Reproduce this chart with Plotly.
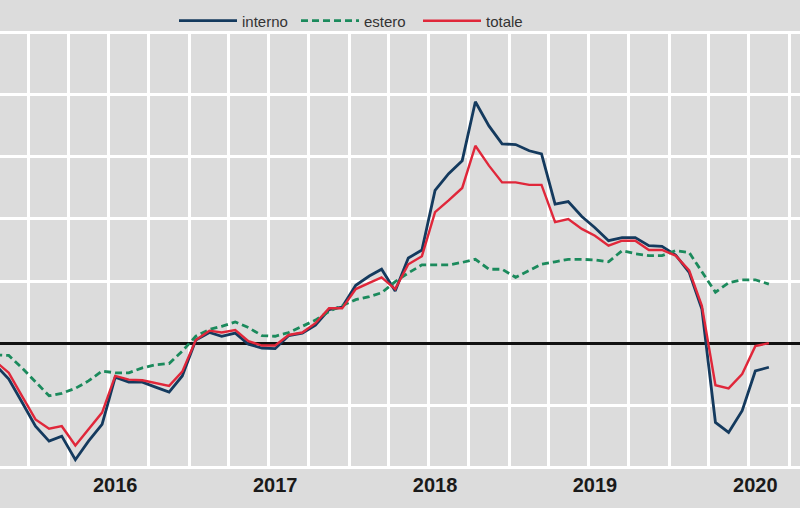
import pandas as pd
import plotly.graph_objects as go

# monthly data, Oct 2015 - Aug 2020 (points sit mid-month)
months = pd.date_range("2015-10-01", "2020-08-01", freq="MS") + pd.Timedelta(days=15)

interno = [-3.5, -5.8, -9.5,
           -13.4, -15.8, -15.0, -18.8, -15.8, -13.1, -5.5, -6.3, -6.3, -7.1, -7.9, -5.3,
           0.5, 1.7, 1.1, 1.6, -0.2, -0.8, -0.9, 1.2, 1.6, 2.9, 5.4, 5.8,
           9.3, 10.8, 11.9, 8.4, 13.7, 15.0, 24.6, 27.3, 29.4, 38.9, 35.0, 32.1,
           32.0, 31.0, 30.5, 22.4, 22.8, 20.4, 18.6, 16.5, 17.0, 17.0, 15.7, 15.6,
           14.2, 11.4, 5.5, -12.8, -14.4, -10.9, -4.5, -3.9]

estero = [-1.9, -2.0, -4.0,
          -6.3, -8.5, -8.1, -7.3, -6.1, -4.5, -4.8, -4.8, -4.0, -3.5, -3.3, -1.3,
          1.1, 2.2, 2.7, 3.4, 2.5, 1.2, 1.1, 1.7, 2.7, 3.7, 5.1, 6.0,
          7.0, 7.5, 8.1, 9.9, 11.3, 12.6, 12.6, 12.6, 13.0, 13.5, 11.9, 11.9,
          10.6, 11.7, 12.7, 13.1, 13.5, 13.5, 13.4, 13.1, 14.9, 14.4, 14.1, 14.1,
          14.9, 14.6, 11.4, 8.2, 9.7, 10.2, 10.2, 9.5]

totale = [-2.9, -4.8, -8.5,
          -12.3, -13.8, -13.4, -16.5, -13.9, -11.2, -5.3, -5.9, -6.0, -6.4, -6.9, -4.6,
          0.5, 2.0, 1.7, 2.1, 0.3, -0.4, -0.4, 1.3, 1.7, 3.2, 5.6, 5.6,
          8.7, 9.7, 10.6, 8.7, 12.7, 14.0, 21.1, 23.0, 25.0, 31.8, 28.6, 25.9,
          25.9, 25.5, 25.5, 19.5, 20.0, 18.4, 17.3, 15.7, 16.5, 16.5, 15.0, 15.0,
          14.1, 11.7, 6.0, -6.8, -7.3, -5.0, -0.5, 0.0]

year_ticks = ["2016-07-16", "2017-07-16", "2018-07-16", "2019-07-16", "2020-07-16"]
year_labels = ["2016", "2017", "2018", "2019", "2020"]

FONT = "Liberation Sans Narrow, Arial Narrow, Liberation Sans, Arial, sans-serif"

fig = go.Figure()
fig.add_trace(go.Scatter(x=months, y=interno, name="interno", mode="lines",
                         line=dict(color="#143a5e", width=2.8)))
fig.add_trace(go.Scatter(x=months, y=estero, name="estero", mode="lines",
                         line=dict(color="#1b8a5c", width=2.8, dash="7px,4px")))
fig.add_trace(go.Scatter(x=months, y=totale, name="totale", mode="lines",
                         line=dict(color="#e0273a", width=2.4)))

fig.update_xaxes(
    range=["2015-10-27", "2020-10-26"],
    tickmode="array", tickvals=year_ticks, ticktext=year_labels,
    tickfont=dict(family=FONT, size=20, color="#1a1a1a", weight="bold"),
    ticklabelstandoff=2,
    showgrid=False, ticks="", zeroline=False, showline=False,
    minor=dict(tick0="2016-01-01", dtick="M3", showgrid=True,
               gridcolor="white", gridwidth=2.5, ticks=""),
)
fig.update_yaxes(
    range=[-20.3, 50.3], tick0=0, dtick=10, showticklabels=False,
    showgrid=True, gridcolor="white", gridwidth=2.5,
    zeroline=True, zerolinecolor="#111111", zerolinewidth=2.5,
)
fig.update_layout(
    width=800, height=508,
    margin=dict(l=0, r=0, t=31, b=39),
    plot_bgcolor="#dcdcdc", paper_bgcolor="#dcdcdc",
    showlegend=True,
    legend=dict(orientation="h", x=0.2175, xanchor="left", y=1.023, yanchor="middle",
                font=dict(family=FONT, size=15, color="#333333"),
                itemwidth=58, entrywidth=49, bgcolor="rgba(0,0,0,0)",
                traceorder="normal"),
)
fig.write_html("out.html", config={"displayModeBar": False},
               post_script="document.body.style.margin='0';")
